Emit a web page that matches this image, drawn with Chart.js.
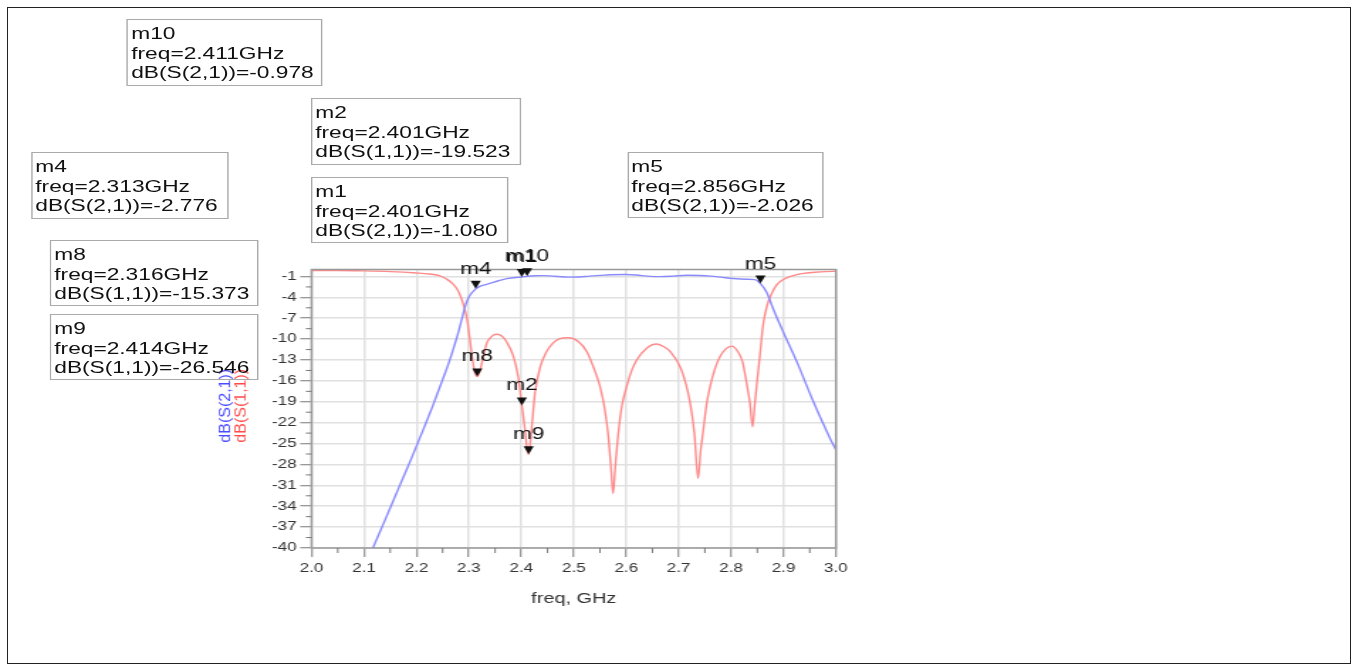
<!DOCTYPE html>
<html lang="en">
<head>
    <meta charset="UTF-8">
    <title>S-parameters, dB(S(2,1)) and dB(S(1,1))</title>
    <script src="https://cdn.jsdelivr.net/npm/chart.js"></script>
    <style>
        body {
            margin: 0;
            background: #fff;
            font-family: "Liberation Sans", Arial, sans-serif;
        }
        .frame {
            position: absolute;
            left: 7px;
            top: 7px;
            width: 1344px;
            height: 657px;
            box-sizing: border-box;
            border: 1.5px solid #222;
        }
        /* the source picture is stretched sideways, so the whole plot is too */
        .stretch {
            position: absolute;
            left: 0;
            top: 0;
            height: 665px;
            transform-origin: 0 0;
        }
        .chart-box {
            position: absolute;
            left: 140px;
            top: 230px;
            width: 470px;
            height: 400px;
        }
        .mbox {
            position: absolute;
            box-sizing: border-box;
            border: 1.5px solid #aaa;
            padding: 4px 0 0 2px;
            font-size: 16px;
            line-height: 19.5px;
            color: #111;
            white-space: pre;
        }
    </style>
</head>
<body>
    <div class="frame"></div>
    <div class="stretch" id="stretch">
        <div class="chart-box"><canvas id="chart"></canvas></div>
    </div>

    <script>
        const STRETCH = 1.42;

        // dB(S(2,1)), blue trace
        const s21Freq = [2.100, 2.117, 2.140, 2.166, 2.190, 2.213, 2.230, 2.245, 2.255, 2.264,
                         2.272, 2.280, 2.287, 2.293, 2.299, 2.305, 2.310, 2.313, 2.320, 2.330,
                         2.340, 2.355, 2.372, 2.390, 2.401, 2.411, 2.425, 2.440, 2.455, 2.470,
                         2.490, 2.510, 2.530, 2.550, 2.570, 2.600, 2.620, 2.640, 2.664, 2.690,
                         2.715, 2.740, 2.760, 2.780, 2.804, 2.830, 2.845, 2.856, 2.868, 2.880,
                         2.899, 2.925, 2.957, 2.989, 3.000];
        const s21dB = [-43.0, -40.0, -36.0, -31.4, -27.2, -23.0, -19.8, -16.8, -14.8, -12.9,
                       -11.0, -9.0, -7.0, -5.3, -4.1, -3.4, -3.0, -2.78, -2.45, -2.2,
                       -2.0, -1.65, -1.3, -1.15, -1.08, -0.98, -0.9, -0.88, -0.92, -1.0,
                       -1.1, -1.08, -0.95, -0.85, -0.75, -0.72, -0.8, -0.95, -1.03, -0.95,
                       -0.82, -0.86, -0.95, -1.1, -1.3, -1.4, -1.45, -2.03, -3.3, -5.6,
                       -8.9, -13.2, -19.0, -24.3, -25.9];

        // dB(S(1,1)), red trace
        const s11Freq = [2.000, 2.050, 2.100, 2.150, 2.200, 2.225, 2.245, 2.258, 2.270, 2.279,
                         2.286, 2.291, 2.296, 2.302, 2.307, 2.311, 2.316, 2.321, 2.326, 2.334,
                         2.340, 2.347, 2.353, 2.359, 2.366, 2.372, 2.385, 2.394, 2.401, 2.407,
                         2.411, 2.414, 2.417, 2.420, 2.426, 2.436, 2.448, 2.460, 2.471, 2.490,
                         2.508, 2.525, 2.540, 2.550, 2.559, 2.566, 2.571, 2.575, 2.579, 2.585,
                         2.592, 2.601, 2.610, 2.620, 2.639, 2.658, 2.672, 2.684, 2.703, 2.714,
                         2.722, 2.730, 2.737, 2.742, 2.747, 2.753, 2.760, 2.769, 2.779, 2.790,
                         2.801, 2.812, 2.822, 2.830, 2.836, 2.841, 2.845, 2.849, 2.855, 2.861,
                         2.866, 2.871, 2.879, 2.887, 2.896, 2.906, 2.920, 2.938, 2.960, 2.980,
                         3.000];
        const s11dB = [-0.15, -0.15, -0.2, -0.3, -0.5, -0.65, -0.9, -1.4, -2.1, -3.0,
                       -4.2, -5.4, -6.9, -10.1, -13.0, -14.7, -15.37, -14.6, -13.0, -10.6,
                       -9.9, -9.4, -9.3, -9.4, -9.8, -10.4, -12.5, -15.4, -19.52, -23.0,
                       -25.8, -26.55, -25.0, -22.6, -17.8, -14.0, -11.8, -10.6, -10.0, -9.8,
                       -10.3, -11.8, -14.5, -16.8, -20.0, -24.0, -28.5, -32.2, -28.5, -23.5,
                       -19.5, -16.8, -14.6, -13.0, -11.3, -10.7, -11.1, -11.8, -14.0, -16.5,
                       -19.2, -23.5, -30.0, -26.0, -23.1, -19.5, -16.8, -14.3, -12.5, -11.4,
                       -11.0, -11.7, -13.3, -16.5, -19.2, -22.6, -19.5, -16.5, -12.3, -8.0,
                       -6.0, -4.6, -3.2, -2.2, -1.6, -1.2, -0.85, -0.55, -0.4, -0.3,
                       -0.25];

        const xTicks = [2.0, 2.1, 2.2, 2.3, 2.4, 2.5, 2.6, 2.7, 2.8, 2.9, 3.0];
        const yTicks = [-40, -37, -34, -31, -28, -25, -22, -19, -16, -13, -10, -7, -4, -1];

        // markers
        const markerNames  = ['m1', 'm2', 'm4', 'm5', 'm8', 'm9', 'm10'];
        const markerFreqs  = [2.401, 2.401, 2.313, 2.856, 2.316, 2.414, 2.411];
        const markerValues = [-1.080, -19.523, -2.776, -2.026, -15.373, -26.546, -0.978];
        const markerTraces = ['S(2,1)', 'S(1,1)', 'S(2,1)', 'S(2,1)', 'S(1,1)', 'S(1,1)', 'S(2,1)'];

        // readout boxes, in page pixels: left, top, width, height
        const boxPlace = {
            m10: [127, 19, 196, 67],
            m2:  [311, 98, 210, 67],
            m1:  [311, 177, 197, 66],
            m4:  [31, 152, 198, 67],
            m8:  [50, 240, 209, 66],
            m9:  [50, 314, 209, 66],
            m5:  [627, 152, 196, 66]
        };

        const FONT = '"Liberation Sans", Arial, sans-serif';
        const wrap = document.getElementById('stretch');
        wrap.style.width = (1358 / STRETCH) + 'px';
        wrap.style.transform = 'scaleX(' + STRETCH + ')';

        markerNames.forEach((name, i) => {
            const p = boxPlace[name];
            const box = document.createElement('div');
            box.className = 'mbox';
            box.style.left = (p[0] / STRETCH) + 'px';
            box.style.top = p[1] + 'px';
            box.style.width = (p[2] / STRETCH) + 'px';
            box.style.height = p[3] + 'px';
            box.textContent = name + '\nfreq=' + markerFreqs[i].toFixed(3) + 'GHz\ndB(' +
                markerTraces[i] + ')=' + markerValues[i].toFixed(3);
            wrap.appendChild(box);
        });

        const toPoints = (xs, ys) => xs.map((x, i) => ({ x: x, y: ys[i] }));

        const extras = {
            id: 'extras',
            afterDraw(chart) {
                const ctx = chart.ctx;
                const a = chart.chartArea;
                const xs = chart.scales.x, ys = chart.scales.y;
                ctx.save();

                // plot frame
                ctx.strokeStyle = '#999';
                ctx.lineWidth = 1.5;
                ctx.strokeRect(a.left, a.top, a.right - a.left, a.bottom - a.top);

                // minor ticks half way between the labelled ones
                ctx.strokeStyle = '#777';
                ctx.lineWidth = 1;
                ctx.beginPath();
                for (let i = 0; i < xTicks.length - 1; i++) {
                    const px = xs.getPixelForValue((xTicks[i] + xTicks[i + 1]) / 2);
                    ctx.moveTo(px, a.bottom);
                    ctx.lineTo(px, a.bottom + 5);
                }
                for (let i = 0; i < yTicks.length - 1; i++) {
                    const py = ys.getPixelForValue((yTicks[i] + yTicks[i + 1]) / 2);
                    ctx.moveTo(a.left, py);
                    ctx.lineTo(a.left - 4, py);
                }
                ctx.stroke();

                // marker triangles and names
                ctx.fillStyle = '#111';
                ctx.font = '16px ' + FONT;
                ctx.textAlign = 'center';
                ctx.textBaseline = 'middle';
                markerNames.forEach((name, i) => {
                    const px = xs.getPixelForValue(markerFreqs[i]);
                    const py = ys.getPixelForValue(markerValues[i]);
                    ctx.beginPath();
                    ctx.moveTo(px, py);
                    ctx.lineTo(px - 3.6, py - 8);
                    ctx.lineTo(px + 3.6, py - 8);
                    ctx.closePath();
                    ctx.fill();
                    ctx.fillText(name, px, py - 19.5);
                });

                // two-colour y axis title, kept upright against the stretch
                const cy = (a.top + a.bottom) / 2 - 3;
                [['dB(S(2,1))', '#4b4bff', 60.2], ['dB(S(1,1))', '#ff4b4b', 49.6]].forEach(t => {
                    ctx.save();
                    ctx.translate(a.left - t[2], cy);
                    ctx.scale(1 / STRETCH, 1);
                    ctx.rotate(-Math.PI / 2);
                    ctx.fillStyle = t[1];
                    ctx.font = '16px ' + FONT;
                    ctx.fillText(t[0], 0, 0);
                    ctx.restore();
                });
                ctx.restore();
            }
        };

        new Chart(document.getElementById('chart'), {
            type: 'line',
            data: {
                datasets: [
                    {
                        label: 'dB(S(2,1))',
                        data: toPoints(s21Freq, s21dB),
                        borderColor: '#8a8aff',
                        borderWidth: 1.4,
                        cubicInterpolationMode: 'monotone'
                    },
                    {
                        label: 'dB(S(1,1))',
                        data: toPoints(s11Freq, s11dB),
                        borderColor: '#ff8a8a',
                        borderWidth: 1.4,
                        cubicInterpolationMode: 'monotone'
                    }
                ]
            },
            options: {
                responsive: true,
                maintainAspectRatio: false,
                animation: false,
                layout: { padding: { left: 0, right: 21.3, top: 39.5, bottom: 0 } },
                elements: { point: { radius: 0 } },
                plugins: {
                    legend: { display: false },
                    tooltip: { enabled: false }
                },
                scales: {
                    x: {
                        type: 'linear',
                        min: 2.0,
                        max: 3.0,
                        afterBuildTicks: s => { s.ticks = xTicks.map(v => ({ value: v })); },
                        afterFit: s => { s.height = 82; },
                        ticks: {
                            font: { family: FONT, size: 12 },
                            color: '#333',
                            padding: 4,
                            maxRotation: 0,
                            autoSkip: false,
                            callback: v => v.toFixed(1)
                        },
                        grid: { color: '#e0e0e0', lineWidth: 1.5, tickLength: 9, tickColor: '#777', tickWidth: 1 },
                        border: { display: false },
                        title: {
                            display: true,
                            text: 'freq, GHz',
                            font: { family: FONT, size: 14 },
                            color: '#333',
                            padding: { top: 0, bottom: 22 }
                        }
                    },
                    y: {
                        min: -40,
                        max: 0,
                        afterBuildTicks: s => { s.ticks = yTicks.map(v => ({ value: v })); },
                        afterFit: s => { s.width = 79.4; },
                        ticks: {
                            font: { family: FONT, size: 12 },
                            color: '#333',
                            padding: 2.6,
                            autoSkip: false,
                            callback: v => String(v)
                        },
                        grid: { color: '#e0e0e0', lineWidth: 1.5, tickLength: 8, tickColor: '#777', tickWidth: 1 },
                        border: { display: false }
                    }
                }
            },
            plugins: [extras]
        });
    </script>
</body>
</html>
